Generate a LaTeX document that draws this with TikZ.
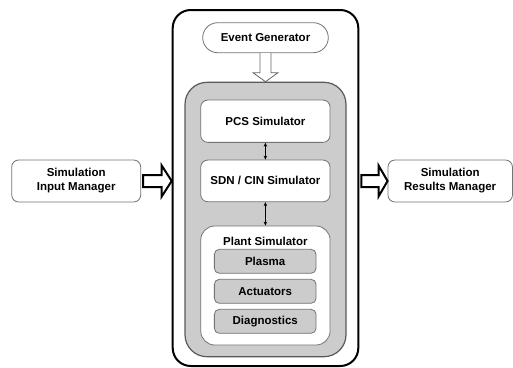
\documentclass[tikz,border=0pt]{standalone}
\usepackage{fontspec}
\setmainfont{Liberation Sans}
\usetikzlibrary{calc,arrows.meta}

\tikzset{
  box/.style={draw=black!55, line width=0.8pt, fill=white, rounded corners=7pt,
    font=\fontsize{11.5}{14}\selectfont\bfseries, align=center, inner sep=0pt},
  subbox/.style={box, fill=black!20, rounded corners=5pt},
  fatarrow/.style={draw=black, line width=2pt, fill=white, line join=miter},
  slimarrow/.style={draw=black!60, line width=0.8pt, fill=white},
  link/.style={{Stealth[length=4pt,width=3.5pt]}-{Stealth[length=4pt,width=3.5pt]}, line width=0.6pt},
}

\begin{document}
\begin{tikzpicture}[x=1pt,y=-1pt]
\useasboundingbox (0,0) rectangle (513,367);

\node[draw=black, line width=2pt, rounded corners=18pt, minimum width=185.6pt, minimum height=356pt] (outer) at (265.5,188) {};
\node[draw=black!65, line width=1.2pt, fill=black!20, rounded corners=22pt, minimum width=161pt, minimum height=274.4pt] (gray) at (265.5,219.5) {};

\node[box, rounded corners=15pt, minimum width=125.6pt, minimum height=30pt] (event) at (265.5,37.7) {Event Generator};

\node[box, minimum width=129.3pt, minimum height=42.3pt] (pcs) at (265.4,121.2) {PCS Simulator};
\node[box, minimum width=129.3pt, minimum height=41.7pt] (sdn) at (265.4,180.9) {SDN / CIN Simulator};
\node[box, rounded corners=14pt, minimum width=129.3pt, minimum height=119pt] (plant) at (265.4,285.5) {};
\node[font=\fontsize{11.5}{14}\selectfont\bfseries, inner sep=0pt] (plantlbl) at (265.4,241) {Plant Simulator};

\node[subbox, minimum width=101.7pt, minimum height=24pt] (plasma) at (265.2,261.3) {Plasma};
\node[subbox, minimum width=101.7pt, minimum height=24pt] (actuators) at (265.2,291.3) {Actuators};
\node[subbox, minimum width=101.7pt, minimum height=24pt] (diagnostics) at (265.2,321.3) {Diagnostics};

\node[box, minimum width=129pt, minimum height=42pt] (input) at (76.2,181) {Simulation\\Input Manager};
\node[box, minimum width=124.5pt, minimum height=42pt] (results) at (450.2,181) {Simulation\\Results Manager};

\draw[slimarrow] ($(event.south)+(-5.5,0)$) -- ($(gray.north)+(-5.5,-9)$) -- ++(-7,0) -- (gray.north)
  -- ++(12.5,-9) -- ++(-7,0) -- ($(event.south)+(5.5,0)$);

\draw[fatarrow] ($(input.east)+(2,-6)$) -- ($(input.east -| outer.west)+(-10,-6)$) -- ++(0,-9.5)
  -- (input.east -| outer.west) -- ++(-10,15.5) -- ++(0,-9.5) -- ($(input.east)+(2,6)$) -- cycle;
\draw[fatarrow] ($(results.west -| outer.east)+(2,-6)$) -- ($(results.west)+(-9,-6)$) -- ++(0,-9.5)
  -- (results.west) -- ++(-9,15.5) -- ++(0,-9.5) -- ($(results.west -| outer.east)+(2,6)$) -- cycle;

\draw[link] (pcs.south) -- (sdn.north);
\draw[link] (sdn.south) -- (plant.north);

\end{tikzpicture}
\end{document}
